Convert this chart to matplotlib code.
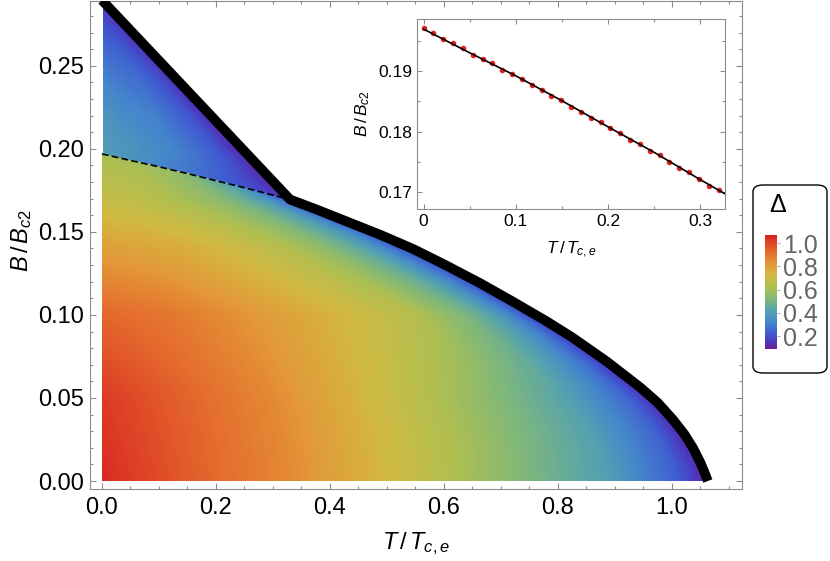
import numpy as np
import matplotlib
matplotlib.use("Agg")
import matplotlib.pyplot as plt
from matplotlib.colors import LinearSegmentedColormap
from matplotlib.patches import FancyBboxPatch
from matplotlib.ticker import FixedLocator, MultipleLocator

plt.rcParams['font.family'] = ['Liberation Sans', 'DejaVu Sans']
plt.rcParams['mathtext.fontset'] = 'custom'
plt.rcParams['mathtext.rm'] = 'Liberation Sans'
plt.rcParams['mathtext.it'] = 'Liberation Sans:italic'

# phase boundaries
upper_T = [0.0, 0.33]
upper_B = [0.2895, 0.1695]
lower_T = [0.33, 0.38, 0.43, 0.49, 0.546, 0.60, 0.663, 0.72, 0.781, 0.826, 0.886,
           0.944, 0.975, 1.002, 1.022, 1.037, 1.050, 1.058, 1.063]
lower_B = [0.1695, 0.1630, 0.1562, 0.1480, 0.1397, 0.1305, 0.1192, 0.1082, 0.0960, 0.0863, 0.0719,
           0.0565, 0.0472, 0.0369, 0.0281, 0.0199, 0.0111, 0.0045, 0.0]
dash_T = [0.0, 0.05, 0.1, 0.15, 0.2, 0.25, 0.3, 0.33]
dash_B = [0.1969, 0.1930, 0.1892, 0.1851, 0.1808, 0.1766, 0.1721, 0.1695]

# gap Delta, lower region: rows = B, columns = T / T_edge(B)
regA_B = [0.0, 0.05, 0.10, 0.14, 0.1695, 0.185, 0.1969]
regA_s = [0.0, 0.15, 0.3, 0.45, 0.6, 0.72, 0.84, 0.9, 0.95, 0.98, 1.0]
regA_D = [
    [1.05, 0.95, 0.86, 0.74, 0.61, 0.50, 0.40, 0.30, 0.23, 0.16, 0.10],
    [1.02, 0.94, 0.86, 0.75, 0.63, 0.53, 0.42, 0.33, 0.25, 0.17, 0.10],
    [0.93, 0.90, 0.84, 0.78, 0.71, 0.64, 0.51, 0.41, 0.29, 0.19, 0.10],
    [0.80, 0.78, 0.75, 0.70, 0.63, 0.55, 0.43, 0.34, 0.25, 0.17, 0.10],
    [0.68, 0.67, 0.64, 0.60, 0.55, 0.49, 0.40, 0.33, 0.25, 0.18, 0.12],
    [0.64, 0.635, 0.63, 0.62, 0.60, 0.59, 0.57, 0.56, 0.555, 0.55, 0.55],
    [0.61, 0.61, 0.61, 0.61, 0.61, 0.61, 0.61, 0.61, 0.61, 0.61, 0.61],
]
# upper wedge: rows = B, columns = fraction between left edge and upper line
regB_B = [0.1695, 0.185, 0.1969, 0.22, 0.25, 0.29]
regB_u = [0.0, 0.5, 0.8, 1.0]
regB_D = [
    [0.13, 0.12, 0.11, 0.10],
    [0.28, 0.22, 0.16, 0.10],
    [0.40, 0.32, 0.22, 0.10],
    [0.37, 0.30, 0.21, 0.10],
    [0.29, 0.24, 0.18, 0.10],
    [0.16, 0.13, 0.11, 0.10],
]

# inset points
dot_T = [0, 0.0107, 0.0213, 0.032, 0.0427, 0.0533, 0.064, 0.0747, 0.0853, 0.096,
         0.1067, 0.1173, 0.128, 0.1387, 0.1493, 0.16, 0.1707, 0.1813, 0.192, 0.2027,
         0.2133, 0.224, 0.2347, 0.2453, 0.256, 0.2667, 0.2773, 0.288, 0.2987, 0.3093, 0.32]
dot_B = [0.19703, 0.19632, 0.19522, 0.19456, 0.19379, 0.19269, 0.19198, 0.19132, 0.19016, 0.18951,
         0.18874, 0.18769, 0.18692, 0.18588, 0.18516, 0.18401, 0.18330, 0.18225, 0.18154, 0.18055,
         0.17973, 0.17863, 0.17797, 0.17687, 0.17615, 0.17505, 0.17396, 0.17330, 0.17220, 0.17110, 0.17038]

vmin, vmax = 0.09, 1.07
cmap_pts = [(0.09, (0.45, 0.12, 0.55)), (0.15, (0.30, 0.22, 0.75)), (0.22, (0.25, 0.36, 0.82)),
            (0.32, (0.27, 0.53, 0.80)), (0.42, (0.34, 0.64, 0.68)), (0.52, (0.50, 0.72, 0.48)),
            (0.62, (0.68, 0.75, 0.32)), (0.72, (0.82, 0.73, 0.26)), (0.82, (0.89, 0.60, 0.22)),
            (0.92, (0.90, 0.43, 0.18)), (1.07, (0.85, 0.13, 0.13))]
cmap = LinearSegmentedColormap.from_list(
    'rainbow_m', [((d - vmin) / (vmax - vmin), c) for d, c in cmap_pts])

# build the density field from the tables
TT = np.linspace(0, 1.07, 1200)
BB = np.linspace(0, 0.29, 700)
edge_T = np.array(dash_T + lower_T[1:])
edge_B = np.array(dash_B + lower_B[1:])
A = np.array(regA_D)
Bt = np.array(regB_D)
Z = np.full((len(BB), len(TT)), np.nan)
for i, b in enumerate(BB):
    te = np.interp(b, edge_B[::-1], edge_T[::-1])
    if b <= dash_B[0]:
        prof = [np.interp(b, regA_B, A[:, j]) for j in range(len(regA_s))]
        ins = TT <= te
        Z[i, ins] = np.interp(TT[ins] / max(te, 1e-6), regA_s, prof)
    if b >= upper_B[1]:
        tu = np.interp(b, upper_B[::-1], upper_T[::-1])
        prof = [np.interp(b, regB_B, Bt[:, j]) for j in range(len(regB_u))]
        ins = (TT > te) & (TT <= tu)
        if tu > te:
            Z[i, ins] = np.interp((TT[ins] - te) / (tu - te), regB_u, prof)
Z = np.ma.masked_invalid(Z)

fig = plt.figure(figsize=(8.3, 5.61), dpi=100)
W, H = 830, 561
frame_c = '#8c8c8c'

ax = fig.add_axes([90 / W, 1 - 489 / H, 652 / W, 488 / H])
im = ax.imshow(Z, extent=[0, 1.07, 0, 0.29], origin='lower', aspect='auto',
               cmap=cmap, vmin=vmin, vmax=vmax, interpolation='nearest', zorder=1)
ax.plot(upper_T + lower_T[1:], upper_B + lower_B[1:], color='k', lw=7,
        solid_joinstyle='round', solid_capstyle='butt', zorder=3)
ax.plot(dash_T, dash_B, color='k', lw=1.2, ls='--', dashes=(4, 2), zorder=2)
ax.set_xlim(-0.021, 1.123)
ax.set_ylim(-0.0048, 0.289)
ax.xaxis.set_major_locator(FixedLocator([0, 0.2, 0.4, 0.6, 0.8, 1.0]))
ax.xaxis.set_minor_locator(MultipleLocator(0.05))
ax.yaxis.set_major_locator(FixedLocator([0, 0.05, 0.1, 0.15, 0.2, 0.25]))
ax.yaxis.set_minor_locator(MultipleLocator(0.01))
ax.set_xticklabels(['0.0', '0.2', '0.4', '0.6', '0.8', '1.0'])
ax.set_yticklabels(['0.00', '0.05', '0.10', '0.15', '0.20', '0.25'])
ax.tick_params(which='both', direction='in', top=True, right=True, color=frame_c,
               width=0.8, labelsize=17)
ax.tick_params(which='major', length=4)
ax.tick_params(which='minor', length=2.5)
ax.tick_params(axis='x', pad=6)
ax.tick_params(axis='y', pad=4)
for sp in ax.spines.values():
    sp.set_color(frame_c)
    sp.set_linewidth(0.8)
ax.set_xlabel(r'$T\,/\,T_{c,e}$', fontsize=17, labelpad=8)
fig.text(22 / W, 1 - 240 / H, r'$B\,/\,B_{c2}$', fontsize=17, rotation=90,
         ha='center', va='center')

# inset
ax2 = fig.add_axes([417 / W, 1 - 209 / H, 308 / W, 190 / H])
ax2.set_facecolor('white')
ax2.plot(dot_T, dot_B, 'o', color='#e8201e', ms=4, mec='none', zorder=2)
ax2.plot(dash_T, dash_B, color='k', lw=1.2, zorder=3)
ax2.set_xlim(-0.0072, 0.327)
ax2.set_ylim(0.16725, 0.19857)
ax2.xaxis.set_major_locator(FixedLocator([0, 0.1, 0.2, 0.3]))
ax2.set_xticklabels(['0', '0.1', '0.2', '0.3'])
ax2.xaxis.set_minor_locator(MultipleLocator(0.05))
ax2.yaxis.set_major_locator(FixedLocator([0.17, 0.18, 0.19]))
ax2.set_yticklabels(['0.17', '0.18', '0.19'])
ax2.yaxis.set_minor_locator(MultipleLocator(0.005))
ax2.tick_params(which='both', direction='in', top=True, right=True, color=frame_c,
                width=0.8, labelsize=12.5)
ax2.tick_params(which='major', length=3.5)
ax2.tick_params(which='minor', length=2)
for sp in ax2.spines.values():
    sp.set_color(frame_c)
    sp.set_linewidth(0.8)
fig.text(571 / W, 1 - 250 / H, r'$T\,/\,T_{c,e}$', fontsize=12.5, ha='center', va='center')
fig.text(363 / W, 1 - 113 / H, r'$B\,/\,B_{c2}$', fontsize=12.5, rotation=90,
         ha='center', va='center')

# colour legend
box = FancyBboxPatch((753 / W, 1 - 373 / H), 74 / W, 188 / H,
                     boxstyle='round,pad=0,rounding_size=0.012',
                     transform=fig.transFigure, fc='white', ec='black', lw=1.0, zorder=-1)
fig.add_artist(box)
fig.text(778 / W, 1 - 205 / H, 'Δ', fontsize=18, ha='center', va='center')
cax = fig.add_axes([765 / W, 1 - 349 / H, 12 / W, 114 / H])
cax.set_zorder(2)
cb = fig.colorbar(im, cax=cax)
cb.set_ticks([0.2, 0.4, 0.6, 0.8, 1.0])
cb.set_ticklabels(['0.2', '0.4', '0.6', '0.8', '1.0'])
cb.outline.set_visible(False)
cax.tick_params(labelsize=18, labelcolor='#666666', color='#aaaaaa', length=2.5,
                width=0.7, pad=2)

fig.savefig('out.png', dpi=100)
